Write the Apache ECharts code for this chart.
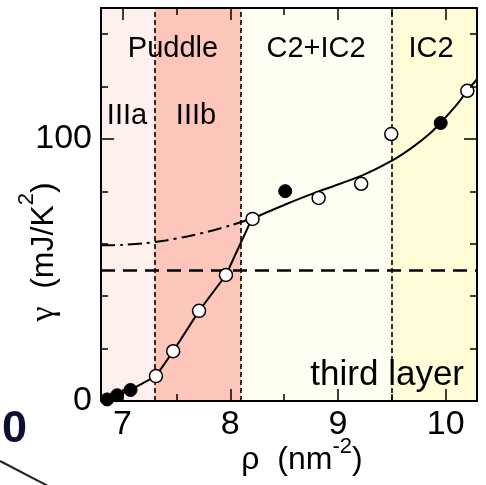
<!DOCTYPE html>
<html>
<head>
<meta charset="utf-8">
<script src="https://cdn.jsdelivr.net/npm/echarts@6/dist/echarts.min.js"></script>
<style>
html,body{margin:0;padding:0;background:#fff;}
#c{width:486px;height:485px;}
</style>
</head>
<body>
<div id="c"></div>
<script>
// ---- data ----
const xRange = [6.8, 10.29];
const yRange = [0, 150];
const xMajorTicks = [7, 8, 9, 10];
const xMinorTicks = [7.5, 8.5, 9.5];
const yMajorTicks = [0, 100];
const regionBounds = [6.8, 7.3, 8.1, 9.5, 10.29];
const regionColors = ['#fef0ed', '#fdc6bb', '#fffef2', '#fefdd8'];
const phaseLines = [7.3, 8.1, 9.5];
const thirdLayer = 50;
const filledPts = [[6.857, 0.6], [6.95, 2.2], [7.074, 4.2], [8.51, 80.1], [9.953, 106.1]];
const openPts = [[7.31, 9.5], [7.47, 19.0], [7.71, 34.4], [7.96, 48.1], [8.207, 69.5], [8.82, 77.5], [9.215, 82.9], [9.494, 101.9], [10.20, 118.4]];
const lowerLine = [[6.85, 0.3], [6.95, 2.2], [7.074, 4.2], [7.31, 9.5], [7.47, 19.0], [7.71, 34.4], [7.96, 48.1], [8.2, 69.5]];
const upperLine = [[8.2, 69.5], [8.51, 75.0], [8.82, 80.0], [9.22, 86.0], [9.5, 91.7], [9.69, 96.8], [9.85, 102.0], [9.95, 106.1], [10.1, 113.0], [10.2, 118.4], [10.29, 122.8]];
const dashDot = [[6.8, 59.4], [7.0, 59.6], [7.2, 60.2], [7.4, 61.3], [7.6, 62.8], [7.8, 64.7], [8.0, 67.0], [8.2, 69.6]];

const FONT = 'Liberation Sans';
const chart = echarts.init(document.getElementById('c'), null, {renderer: 'canvas'});

function xAx(pos, ticks, len, line, label) {
  return {
    type: 'value', position: pos, min: xRange[0], max: xRange[1], z: 8,
    axisLine: {show: line, onZero: false, lineStyle: {color: '#000', width: 2}},
    axisTick: {show: true, inside: true, length: len, customValues: ticks, lineStyle: {color: '#000', width: 1.5}},
    axisLabel: label ? {show: true, customValues: ticks, fontSize: 34, fontFamily: FONT, color: '#000', margin: 7} : {show: false},
    splitLine: {show: false}
  };
}
function yAx(pos, major, line, label) {
  const ax = {
    type: 'value', position: pos, min: yRange[0], max: yRange[1], z: 8,
    axisLine: {show: line, onZero: false, lineStyle: {color: '#000', width: 2}},
    axisTick: {show: true, inside: true, length: major ? 13 : 7, lineStyle: {color: '#000', width: 1.5}},
    axisLabel: label ? {show: true, customValues: yMajorTicks, fontSize: 34, fontFamily: FONT, color: '#000', margin: 9} : {show: false},
    splitLine: {show: false}
  };
  if (major) ax.axisTick.customValues = yMajorTicks; else ax.interval = 20;
  return ax;
}

const areas = [];
for (let i = 0; i < regionColors.length; i++) {
  areas.push([{xAxis: regionBounds[i], itemStyle: {color: regionColors[i], opacity: 1}}, {xAxis: regionBounds[i + 1]}]);
}

const supY = {fontSize: 22, fontFamily: FONT, verticalAlign: 'top', padding: [0, 0, 34, 0]};
const supX = {fontSize: 22, fontFamily: FONT, verticalAlign: 'top', padding: [0, 0, 27, 0]};

const option = {
  animation: false,
  grid: {left: 101, right: 9, top: 8, bottom: 84, containLabel: false},
  xAxis: [
    xAx('bottom', xMajorTicks, 12, true, true),
    xAx('bottom', xMinorTicks, 7, false, false),
    xAx('top', xMajorTicks, 12, true, false),
    xAx('top', xMinorTicks, 7, false, false)
  ],
  yAxis: [
    yAx('left', false, true, false),
    yAx('left', true, false, true),
    yAx('right', false, true, false),
    yAx('right', true, false, false)
  ],
  series: [
    {
      type: 'line', data: [], silent: true, z: 1,
      markArea: {silent: true, data: areas, label: {show: false}}
    },
    {
      type: 'line', data: [], silent: true, z: 2,
      markLine: {
        silent: true, symbol: 'none', animation: false,
        label: {show: false},
        data: phaseLines.map(v => ({xAxis: v, lineStyle: {type: [5, 3], width: 1.6, color: '#000'}}))
          .concat([{yAxis: thirdLayer, lineStyle: {type: [14, 8], width: 2.5, color: '#000'}}])
      }
    },
    {
      type: 'line', data: dashDot, showSymbol: false, symbol: 'none', smooth: 0.3, z: 3,
      lineStyle: {color: '#000', width: 2, type: [14, 5, 3, 5]}
    },
    {
      type: 'line', data: lowerLine, showSymbol: false, symbol: 'none', z: 3,
      lineStyle: {color: '#000', width: 2}
    },
    {
      type: 'line', data: upperLine, showSymbol: false, symbol: 'none', smooth: 0.3, z: 3,
      lineStyle: {color: '#000', width: 2}
    },
    {
      type: 'scatter', data: openPts, symbol: 'circle', symbolSize: 13, z: 5,
      itemStyle: {color: '#fff', borderColor: '#000', borderWidth: 1.5, opacity: 1}
    },
    {
      type: 'scatter', data: filledPts, symbol: 'circle', symbolSize: 13, z: 5,
      itemStyle: {color: '#000', borderColor: '#000', borderWidth: 1, opacity: 1}
    }
  ],
  graphic: [
    {type: 'text', x: 173, y: 49, z: 10, style: {text: 'Puddle', font: '29px "Liberation Sans"', fill: '#000', align: 'center', verticalAlign: 'middle'}},
    {type: 'text', x: 127, y: 116, z: 10, style: {text: 'IIIa', font: '29px "Liberation Sans"', fill: '#000', align: 'center', verticalAlign: 'middle'}},
    {type: 'text', x: 196, y: 116, z: 10, style: {text: 'IIIb', font: '29px "Liberation Sans"', fill: '#000', align: 'center', verticalAlign: 'middle'}},
    {type: 'text', x: 316, y: 49, z: 10, style: {text: 'C2+IC2', font: '29px "Liberation Sans"', fill: '#000', align: 'center', verticalAlign: 'middle'}},
    {type: 'text', x: 431, y: 49, z: 10, style: {text: 'IC2', font: '29px "Liberation Sans"', fill: '#000', align: 'center', verticalAlign: 'middle'}},
    {type: 'text', x: 464, y: 375, z: 10, style: {text: 'third layer', font: '35px "Liberation Sans"', fill: '#000', align: 'right', verticalAlign: 'middle'}},
    {type: 'text', x: 44, y: 252, rotation: Math.PI / 2, z: 10,
      style: {text: '{g|γ}  {m|(mJ/K}{s|2}{m|)}', fill: '#000', align: 'center', verticalAlign: 'middle',
        font: '32px "Liberation Sans"',
        rich: {g: {fontFamily: 'Liberation Serif', fontSize: 34}, m: {fontFamily: FONT, fontSize: 32}, s: supY}}},
    {type: 'text', x: 302, y: 460, z: 10,
      style: {text: '{g|ρ}  {m|(nm}{s|-2}{m|)}', fill: '#000', align: 'center', verticalAlign: 'middle',
        font: '32px "Liberation Sans"',
        rich: {g: {fontFamily: FONT, fontSize: 32}, m: {fontFamily: FONT, fontSize: 32}, s: supX}}},
    {type: 'text', x: 2, y: 430, z: 10, style: {text: '0', font: 'bold 45px "Liberation Sans"', fill: '#0e1030', verticalAlign: 'middle', shadowColor: '#d98a2a', shadowOffsetX: -1.5, shadowBlur: 0}},
    {type: 'line', z: 10, shape: {x1: 0, y1: 461, x2: 48, y2: 486}, style: {stroke: '#222', lineWidth: 2}}
  ]
};
chart.setOption(option);
</script>
</body>
</html>
